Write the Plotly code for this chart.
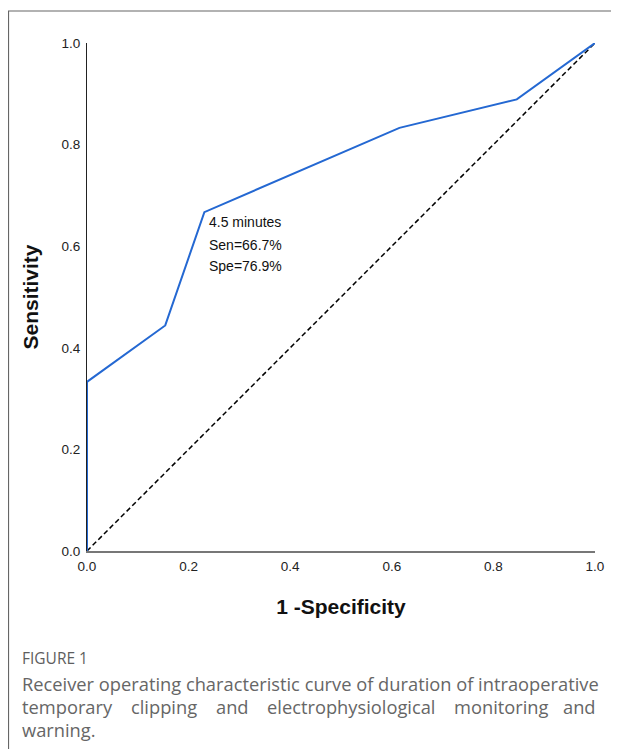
import plotly.graph_objects as go

# ROC data
fpr = [0.0, 0.0, 0.154, 0.231, 0.615, 0.846, 1.0]
tpr = [0.0, 0.333, 0.444, 0.667, 0.833, 0.889, 1.0]
ref_x = [0.0, 1.0]
ref_y = [0.0, 1.0]
tick_vals = [0.0, 0.2, 0.4, 0.6, 0.8, 1.0]
tick_text = ["0.0", "0.2", "0.4", "0.6", "0.8", "1.0"]
cut_lines = ["4.5 minutes", "Sen=66.7%", "Spe=76.9%"]

# page body has an 8px margin, so the figure is offset by 8px
OFF = 8
W, H = 619 - OFF, 749 - OFF
L, T = 87 - OFF, 43 - OFF
R = W - (595 - OFF)
B = H - (551 - OFF)
PW = W - L - R
PH = H - T - B

def px2x(px):
    return (px - OFF - L) / PW

def py2y(py):
    return (H - B - (py - OFF)) / PH

fig = go.Figure()
fig.add_trace(go.Scatter(x=ref_x, y=ref_y, mode="lines",
                         line=dict(color="black", width=1.5, dash="5px,3px"),
                         hoverinfo="skip", showlegend=False))
fig.add_trace(go.Scatter(x=fpr, y=tpr, mode="lines",
                         line=dict(color="#2468d2", width=2),
                         showlegend=False))

axis_font = dict(family="Liberation Sans, Arial, sans-serif", size=13.5, color="#222")
title_font = dict(family="Liberation Sans, Arial, sans-serif", size=21, color="#111")
fig.update_layout(
    width=W, height=H,
    margin=dict(l=L, r=R, t=T, b=B),
    paper_bgcolor="white", plot_bgcolor="white",
    xaxis=dict(range=[0, 1], tickvals=tick_vals, ticktext=tick_text,
               showgrid=False, zeroline=False, showline=True,
               linecolor="#777", linewidth=2, ticks="", layer="below traces",
               tickfont=axis_font, ticklabelstandoff=2,
               title=dict(text="<b>1 -Specificity</b>", standoff=26, font=title_font)),
    yaxis=dict(range=[0, 1], tickvals=tick_vals, ticktext=tick_text,
               showgrid=False, zeroline=False, showline=True,
               linecolor="#222", linewidth=1.2, ticks="", layer="below traces",
               tickfont=axis_font, ticklabelstandoff=3,
               title=dict(text="<b>Sensitivity</b>", standoff=17, font=title_font)),
)

# cut-off annotation
line_py = [222, 245, 266]
for txt, py in zip(cut_lines, line_py):
    fig.add_annotation(x=0.236, y=py2y(py), xref="x", yref="y", text=txt,
                       showarrow=False, xanchor="left", yanchor="middle",
                       font=dict(family="Liberation Sans, Arial, sans-serif",
                                 size=14, color="#111"))

# frame
frame_col = "#666"
fig.add_shape(type="line", xref="paper", yref="paper",
              x0=px2x(8), x1=px2x(619 + 5), y0=py2y(11), y1=py2y(11),
              line=dict(color=frame_col, width=1.2))
fig.add_shape(type="line", xref="paper", yref="paper",
              x0=px2x(8.5), x1=px2x(8.5), y0=py2y(11), y1=py2y(749 + 5),
              line=dict(color=frame_col, width=1.2))

cap_font = dict(family="Open Sans, sans-serif", size=18.3, color="#666")
fig.add_annotation(x=px2x(20), y=py2y(658), xref="paper", yref="paper",
                   text="FIGURE 1", showarrow=False, xanchor="left", yanchor="middle",
                   font=dict(family="Open Sans, sans-serif", size=15.5, color="#5e5e5e"))
fig.add_annotation(x=px2x(20), y=py2y(683), xref="paper", yref="paper",
                   text="Receiver operating characteristic curve of duration of intraoperative",
                   showarrow=False, xanchor="left", yanchor="middle", font=cap_font)
line2_words = ["temporary", "clipping", "and", "electrophysiological", "monitoring", "and"]
line2_px = [20, 129, 214, 265, 452, 598]
for i, (wd, px) in enumerate(zip(line2_words, line2_px)):
    fig.add_annotation(x=px2x(px), y=py2y(706), xref="paper", yref="paper",
                       text=wd, showarrow=False,
                       xanchor="right" if i == len(line2_words) - 1 else "left",
                       yanchor="middle", font=cap_font)
fig.add_annotation(x=px2x(20), y=py2y(729), xref="paper", yref="paper",
                   text="warning.", showarrow=False, xanchor="left", yanchor="middle",
                   font=cap_font)

fig.write_html("out.html")
